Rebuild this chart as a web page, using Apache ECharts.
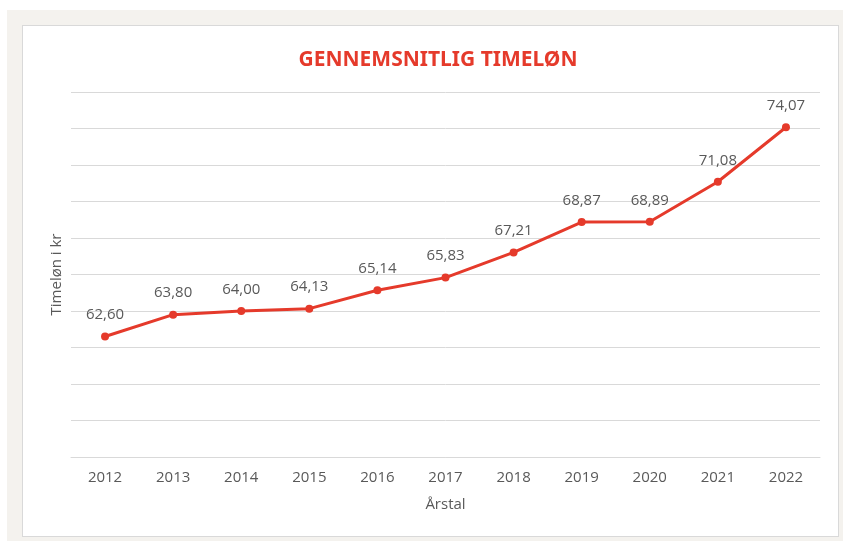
<!DOCTYPE html>
<html>
<head>
<meta charset="utf-8">
<script src="https://cdn.jsdelivr.net/npm/echarts@6/dist/echarts.min.js"></script>
<style>
  html, body { margin: 0; padding: 0; background: #ffffff; }
  .frame {
    position: absolute; left: 7px; top: 10px; width: 836px; height: 531px;
    background: #f4f2ee;
  }
  .panel {
    position: absolute; left: 22px; top: 25px; width: 815px; height: 510px;
    background: #ffffff; border: 1px solid #d9d9d9;
  }
  #chart { position: absolute; left: 0; top: 0; width: 843px; height: 541px; }
</style>
</head>
<body>
<div class="frame"></div>
<div class="panel"></div>
<div id="chart"></div>
<script>
// data
var years = ["2012", "2013", "2014", "2015", "2016", "2017", "2018", "2019", "2020", "2021", "2022"];
var wage = [62.60, 63.80, 64.00, 64.13, 65.14, 65.83, 67.21, 68.87, 68.89, 71.08, 74.07];

var red = "#e53a2b";
var gray = "#595959";
var font = "'Open Sans', sans-serif";

var chart = echarts.init(document.getElementById("chart"));
chart.setOption({
  backgroundColor: "transparent",
  title: {
    text: "GENNEMSNITLIG TIMELØN",
    left: 433,
    textAlign: "center",
    top: 45,
    textStyle: { color: red, fontSize: 21, fontWeight: "bold", fontFamily: "'Noto Sans', sans-serif" }
  },
  grid: { left: 71, right: 23, top: 92, bottom: 84 },
  xAxis: {
    type: "category",
    data: years,
    name: "Årstal",
    nameLocation: "middle",
    nameGap: 40,
    nameTextStyle: { color: gray, fontSize: 15, fontFamily: font },
    axisLine: { lineStyle: { color: "#d9d9d9" } },
    axisTick: { show: false },
    axisLabel: { color: gray, fontSize: 15, fontFamily: font, margin: 13 }
  },
  yAxis: {
    type: "value",
    min: 56,
    max: 76,
    interval: 2,
    name: "Timeløn i kr",
    nameLocation: "middle",
    nameGap: 7,
    nameTextStyle: { color: gray, fontSize: 15, fontFamily: font },
    axisLine: { show: false },
    axisTick: { show: false },
    axisLabel: { show: false },
    splitLine: { lineStyle: { color: "#d9d9d9" } }
  },
  series: [{
    type: "line",
    data: wage,
    symbol: "circle",
    symbolSize: 8,
    lineStyle: { color: red, width: 3 },
    itemStyle: { color: red },
    label: {
      show: true,
      position: "top",
      distance: 10,
      color: gray,
      fontSize: 15,
      fontFamily: font,
      formatter: function (p) { return p.value.toFixed(2).replace(".", ","); }
    }
  }]
});
</script>
</body>
</html>
